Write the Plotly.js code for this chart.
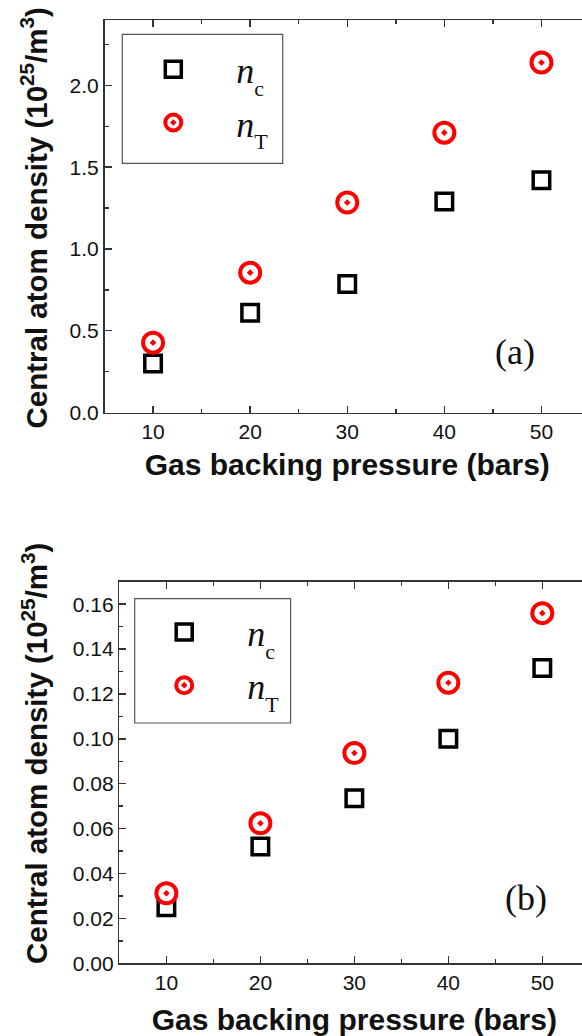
<!DOCTYPE html>
<html>
<head>
<meta charset="utf-8">
<script src="https://cdn.plot.ly/plotly-3.0.1.min.js"></script>
<style>
  html, body { margin: 0; padding: 0; overflow: hidden; background: white; }
  #chart { width: 600px; height: 1036px; }
</style>
</head>
<body>
<div id="chart"></div>
<script>
// ---- data ----
var pressure = [10, 20, 30, 40, 50];
var ncA = [0.30, 0.61, 0.785, 1.29, 1.42];
var nTA = [0.427, 0.855, 1.284, 1.711, 2.14];
var ncB = [0.025, 0.052, 0.0735, 0.100, 0.1316];
var nTB = [0.0312, 0.0624, 0.0937, 0.125, 0.156];
var subC = 'c', subT = 'T';
var panelLabels = ['(a)', '(b)'];
var xTitle = 'Gas backing pressure (bars)';
var yTitle = 'Central atom density (10<sup>25</sup>/m<sup>3</sup>)';

function legName(sub) {
  return '\u00a0\u00a0<i>n</i><sub><sub><span style="font-size:22px">' + sub + '</span></sub></sub>\u00a0';
}

var W = 600, H = 1036;
var squareMarker = { symbol: 'square-open', size: 16.5, color: 'black', line: { color: 'black', width: 3.5 } };
var circleMarker = { symbol: 'circle-dot', size: 20, color: 'white', line: { color: '#ff0000', width: 4 } };

var traces = [
  { x: pressure, y: ncA, xaxis: 'x', yaxis: 'y', type: 'scatter', mode: 'markers', name: legName(subC), marker: squareMarker, legend: 'legend', legendgroup: 'a1' },
  { x: pressure, y: nTA, xaxis: 'x', yaxis: 'y', type: 'scatter', mode: 'markers', name: legName(subT), marker: circleMarker, legend: 'legend', legendgroup: 'a2' },
  { x: pressure, y: ncB, xaxis: 'x2', yaxis: 'y2', type: 'scatter', mode: 'markers', name: legName(subC), marker: squareMarker, legend: 'legend2', legendgroup: 'b1' },
  { x: pressure, y: nTB, xaxis: 'x2', yaxis: 'y2', type: 'scatter', mode: 'markers', name: legName(subT), marker: circleMarker, legend: 'legend2', legendgroup: 'b2' }
];

var axisCommon = {
  showline: true, linecolor: '#333', linewidth: 1.5, mirror: 'ticks',
  ticks: 'inside', ticklen: 7, tickwidth: 1.5, tickcolor: '#333',
  showgrid: false, zeroline: false,
  tickfont: { family: 'Liberation Sans, Arial, sans-serif', size: 21, color: '#111' }
};
function ax(extra) { return Object.assign({}, JSON.parse(JSON.stringify(axisCommon)), extra); }
function minorT(d) { return { ticks: 'inside', ticklen: 4, tickwidth: 1.5, tickcolor: '#333', dtick: d, tick0: 0, showgrid: false }; }
var titleFont = { family: 'Liberation Sans, Arial, sans-serif', size: 30, color: '#111', weight: 'bold' };
var yTitleFont = { family: 'Liberation Sans, Arial, sans-serif', size: 29.5, color: '#111', weight: 'bold' };
var legendCommon = {
  xanchor: 'left', yanchor: 'top', bgcolor: 'rgba(0,0,0,0)', borderwidth: 0,
  font: { family: 'Liberation Serif, Times New Roman, serif', size: 36, color: '#111' },
  traceorder: 'grouped', tracegroupgap: 3.5, itemwidth: 80
};

var layout = {
  width: W, height: H,
  margin: { l: 0, r: 0, t: 0, b: 0 },
  paper_bgcolor: 'white', plot_bgcolor: 'white',
  showlegend: true,
  xaxis: ax({ domain: [104.5 / W, 590 / W], range: [5, 55], dtick: 10, tick0: 0, anchor: 'y', minor: minorT(5),
    title: { text: xTitle, font: titleFont, standoff: 12 } }),
  yaxis: ax({ domain: [(H - 412.5) / H, (H - 20) / H], range: [0, 2.4], dtick: 0.5, tick0: 0, tickformat: '.1f', anchor: 'x', minor: minorT(0.25) }),
  xaxis2: ax({ domain: [119.4 / W, 589.3 / W], range: [5, 55], dtick: 10, tick0: 0, anchor: 'y2', minor: minorT(5),
    title: { text: xTitle, font: titleFont, standoff: 16 } }),
  yaxis2: ax({ domain: [(H - 963.3) / H, (H - 581.7) / H], range: [0, 0.17], dtick: 0.02, tick0: 0, tickformat: '.2f', anchor: 'x2', minor: minorT(0.01) }),
  legend: Object.assign({}, legendCommon, { x: 128.3 / W, y: (H - 39.3) / H }),
  legend2: Object.assign({}, legendCommon, { x: 139.2 / W, y: (H - 602) / H }),
  shapes: [
    { type: 'rect', xref: 'paper', yref: 'paper', x0: 122.3 / W, x1: 282.7 / W, y0: (H - 163.3) / H, y1: (H - 34.3) / H,
      line: { color: '#555', width: 1.2 }, fillcolor: 'rgba(0,0,0,0)', layer: 'above' },
    { type: 'rect', xref: 'paper', yref: 'paper', x0: 134.7 / W, x1: 290.6 / W, y0: (H - 723) / H, y1: (H - 598.7) / H,
      line: { color: '#555', width: 1.2 }, fillcolor: 'rgba(0,0,0,0)', layer: 'above' }
  ],
  annotations: [
    { text: yTitle, xref: 'paper', yref: 'paper', x: 34 / W, y: (H - 218.5) / H, xanchor: 'center', yanchor: 'middle', textangle: -90, showarrow: false,
      font: yTitleFont },
    { text: yTitle, xref: 'paper', yref: 'paper', x: 34 / W, y: (H - 754) / H, xanchor: 'center', yanchor: 'middle', textangle: -90, showarrow: false,
      font: yTitleFont },
    { text: panelLabels[0], xref: 'paper', yref: 'paper', x: 514.5 / W, y: (H - 351.7) / H, xanchor: 'center', yanchor: 'middle', showarrow: false,
      font: { family: 'Liberation Serif, Times New Roman, serif', size: 36, color: '#111' } },
    { text: panelLabels[1], xref: 'paper', yref: 'paper', x: 526 / W, y: (H - 897.5) / H, xanchor: 'center', yanchor: 'middle', showarrow: false,
      font: { family: 'Liberation Serif, Times New Roman, serif', size: 36, color: '#111' } }
  ]
};

Plotly.newPlot('chart', traces, layout, { displayModeBar: false, staticPlot: true });
</script>
</body>
</html>
